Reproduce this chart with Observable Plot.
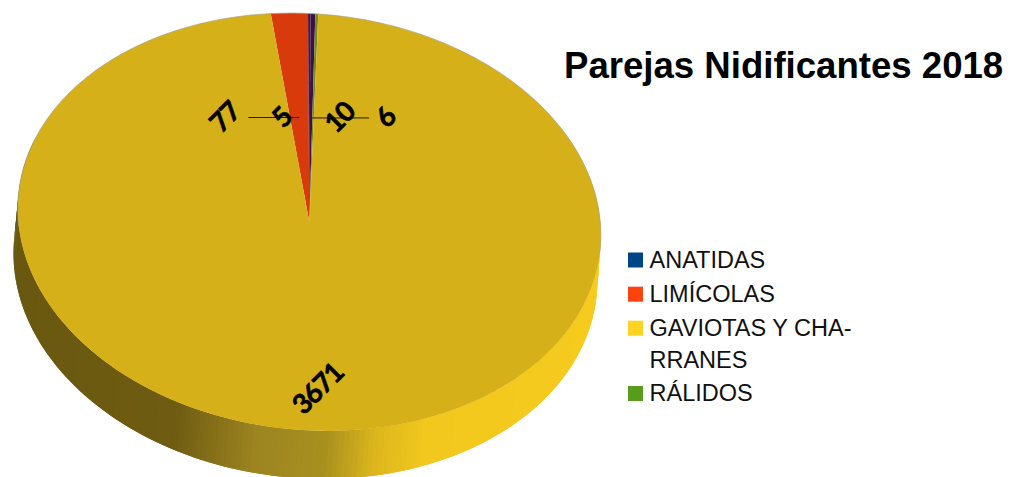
<!DOCTYPE html>
<html>
<head>
<meta charset="utf-8">
<script src="https://cdn.jsdelivr.net/npm/d3@7"></script>
<script src="https://cdn.jsdelivr.net/npm/@observablehq/plot@0.6"></script>
<style>html,body{margin:0;padding:0;background:#fff}svg{display:block}
.slice-label text{letter-spacing:-1.3px}</style>
</head>
<body>
<div id="chart"></div>
<script>
// --- data ---
const sliceNames = ["LIMÍCOLAS", "SIN NOMBRE", "ANATIDAS", "RÁLIDOS", "GAVIOTAS Y CHARRANES"];
const sliceValues = [77, 5, 10, 6, 3671];
const sliceTops = ["#d93a0c", "#551236", "#38134a", "#7a8a1c", "#d6b019"];
const legendNames = ["ANATIDAS", "LIMÍCOLAS", "GAVIOTAS Y CHA-", "RRANES", "RÁLIDOS"];
const legendColors = ["#004586", "#ff420e", "#ffd320", null, "#579d1c"];
const titleText = "Parejas Nidificantes 2018";

// --- layout of the tilted pie ---
const W = 1010, H = 477;
const top3d = {cx: 308.8, cy: 221.5, rx: 291.5, ry: 208.5};
const low3d = {cx: 305, cy: 266, rx: 292, ry: 212};
const shear = 0.045;
const startDeg = -7.6;
const rad = d3.scaleLinear().domain([0, d3.sum(sliceValues)]).range([startDeg, startDeg + 360]);
const pt = (e, deg, r = 1) => {
  const a = deg * Math.PI / 180, dx = e.rx * r * Math.sin(a);
  return {x: e.cx + dx, y: e.cy - e.ry * r * Math.cos(a) + shear * dx};
};

// slices from the values
let acc = 0;
const slices = sliceValues.map((v, i) => {
  const s = {i, name: sliceNames[i], value: v, a0: rad(acc), a1: rad(acc + v), fill: sliceTops[i]};
  acc += v;
  s.mid = (s.a0 + s.a1) / 2;
  return s;
});
const polys = slices.flatMap(s => {
  const n = Math.max(2, Math.ceil((s.a1 - s.a0) / 1));
  const pts = [pt(top3d, s.a0, 0)];
  for (let k = 0; k <= n; k++) pts.push(pt(top3d, s.a0 + (s.a1 - s.a0) * k / n));
  return pts.map(p => ({...p, id: s.i, fill: s.fill}));
});

// side wall, shaded from left to right; each band overlaps the next one
const wallShade = d3.scaleLinear()
  .domain([13, 170, 250, 320, 370, 420, 600])
  .range(["#6a5810", "#6f5c12", "#9c8420", "#a8901f", "#dcb61c", "#f2c81e", "#f6cb1e"])
  .interpolate(d3.interpolateRgb);
const step = 1;
const wall = d3.range(290, 60, -step).flatMap(a => {
  const p0 = pt(top3d, a), p1 = pt(top3d, a - 2 * step), q0 = pt(low3d, a), q1 = pt(low3d, a - 2 * step);
  const fill = wallShade(q0.x);
  return [p0, q0, q1, p1].map(p => ({...p, id: a, fill}));
});

// faint rim along the back of the disc
const rim = d3.range(-95, 96, 1).map(a => pt(top3d, a));

// labels: the slim slices sit on one leader line at half radius
const labelShift = [-74, -27, 29, 73, -3];
const labels = slices.map((s, i) => {
  const r = i === 4 ? 0.80 : 0.5;
  const p = pt(top3d, s.mid, r);
  return {text: String(s.value), x: p.x + labelShift[i], y: p.y, ax: p.x, ay: p.y, i};
});
const leaders = [
  {x1: labels[0].x + 23, x2: labels[0].ax, y: labels[0].y},
  {x1: labels[2].ax + 1, x2: labels[3].x - 17, y: labels[3].y}
];

const legend = legendNames.map((t, i) => ({t, c: legendColors[i], y: [259.5, 293.7, 327.7, 360, 393][i]}));

const chart = Plot.plot({
  width: W, height: H, margin: 0,
  x: {domain: [0, W], range: [0, W], axis: null},
  y: {domain: [0, H], range: [0, H], axis: null},
  color: {type: "identity"},
  style: {background: "#fff", fontFamily: "'Liberation Sans'"},
  marks: [
    Plot.line(wall, {x: "x", y: "y", z: "id", fill: "fill", stroke: "none", curve: "linear-closed"}),
    Plot.line(polys, {x: "x", y: "y", z: "id", fill: "fill", stroke: "none", curve: "linear-closed"}),
    Plot.line(rim, {x: "x", y: "y", stroke: "#a8a285", strokeWidth: 0.7}),
    Plot.link(leaders, {x1: "x1", x2: "x2", y1: "y", y2: "y", stroke: "#1d1a08", strokeWidth: 1}),
    Plot.text(labels, {x: "x", y: "y", text: "text", rotate: -45, fontSize: 27.5, fontWeight: "bold", fill: "#000", stroke: "#000", strokeWidth: 0.6, fontFamily: "Lato", className: "slice-label"}),
    Plot.text([titleText], {x: () => 563.5, y: () => 66, text: d => d, textAnchor: "start", fontSize: 36.6, fontWeight: "bold", fill: "#000"}),
    Plot.dot(legend.filter(d => d.c), {x: () => 635, y: "y", symbol: "square", r: 8.46, fill: "c", stroke: "none"}),
    Plot.text(legend, {x: () => 649, y: "y", text: "t", textAnchor: "start", fontSize: 23.5, fill: "#111"})
  ]
});
document.getElementById("chart").append(chart);
</script>
</body>
</html>
